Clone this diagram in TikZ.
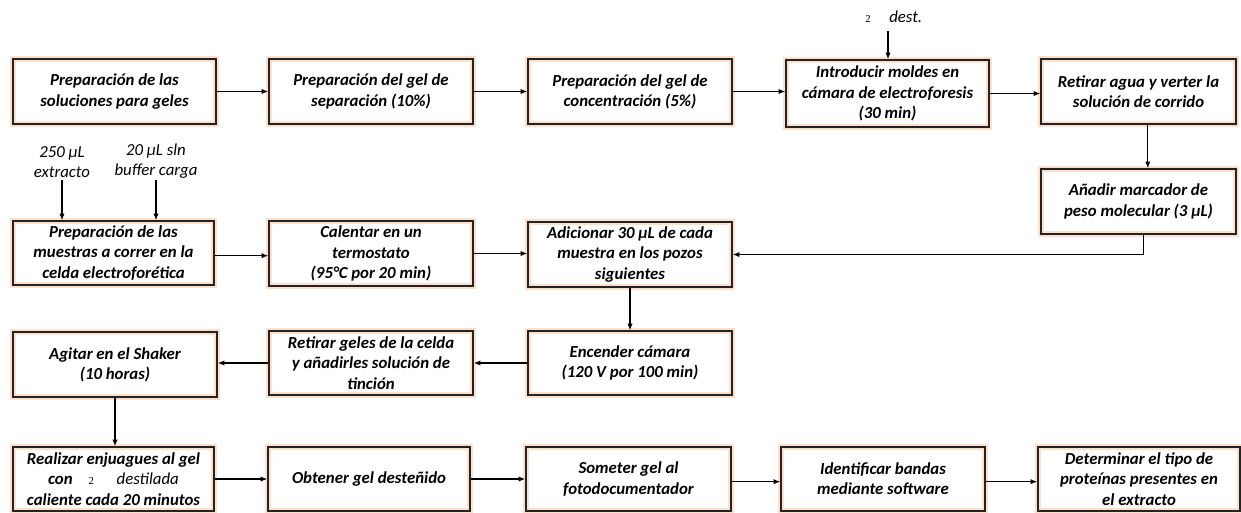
\documentclass[tikz,border=0pt]{standalone}
\usepackage{fontspec}
\setmainfont{Carlito}
\newfontfamily\subfont{Liberation Serif}
\usetikzlibrary{arrows.meta,calc}
\definecolor{glow}{RGB}{252,224,204}
\definecolor{edge}{RGB}{35,35,35}
\newcommand\boxnode[6]{\node[box, minimum width={(#4-#2)*0.75pt}, minimum height={(#5-#3)*0.75pt}] (#1) at ({(#2+#4)/2},{(#3+#5)/2}) {#6};}
\begin{document}
\begin{tikzpicture}[x=0.75pt,y=-0.75pt,
  box/.style={draw=edge, line width=1.1pt, inner sep=0pt, align=center,
    font=\fontsize{12.6}{15.2}\selectfont\bfseries\itshape,
    preaction={draw=glow, line width=4.5pt}},
  lab/.style={align=center, inner sep=0pt, font=\fontsize{12.6}{15.2}\selectfont\itshape},
  arr/.style={-{Latex[length=5pt,width=4pt]}, line width=0.9pt, draw=black}]
\useasboundingbox (0,0) rectangle (1241,512);
% row 1
\boxnode{b1}{13}{59}{216}{124}{Preparación de las\\soluciones para geles}
\boxnode{b2}{269}{59}{473}{124}{Preparación del gel de\\separación (10\%)}
\boxnode{b3}{528}{59}{732}{124}{Preparación del gel de\\concentración (5\%)}
\boxnode{b4}{786}{60}{989}{127}{Introducir moldes en\\cámara de electroforesis\\(30 min)}
\boxnode{b5}{1041}{59}{1236}{124}{Retirar agua y verter la\\solución de corrido}
% row 2
\boxnode{b6}{1041}{169}{1236}{234}{Añadir marcador de\\peso molecular (3 µL)}
\boxnode{b7}{13}{221}{214}{285}{Preparación de las\\muestras a correr en la\\celda electroforética}
\boxnode{b8}{269}{221}{473}{286}{Calentar en un\\termostato\\(95°C por 20 min)}
\boxnode{b9}{528}{222}{732}{287}{Adicionar 30 µL de cada\\muestra en los pozos\\siguientes}
% row 3
\boxnode{b10}{528}{331}{732}{395}{Encender cámara\\(120 V por 100 min)}
\boxnode{b11}{269}{331}{473}{395}{Retirar geles de la celda\\y añadirles solución de\\tinción}
\boxnode{b12}{13}{332}{217}{397}{Agitar en el Shaker\\(10 horas)}
% row 4
\boxnode{b13}{13}{447}{214}{511}{Realizar enjuagues al gel\\con\hspace{12pt}{\subfont\mdseries\upshape\fontsize{8}{9}\selectfont 2}\hspace{17pt}{\mdseries destilada}\\caliente cada 20 minutos}
\boxnode{b14}{268}{447}{470}{511}{Obtener gel desteñido}
\boxnode{b15}{526}{447}{731}{511}{Someter gel al\\fotodocumentador}
\boxnode{b16}{781}{447}{985}{511}{Identificar bandas\\mediante software}
\boxnode{b17}{1038}{447}{1240}{511}{Determinar el tipo de\\proteínas presentes en\\el extracto}
% labels
\node[lab] (l1) at (62,162) {250 µL\\extracto};
\node[lab] (l2) at (156,161) {20 µL sln\\buffer carga};
\node[lab, anchor=west] (l3) at (865,17) {{\subfont\upshape\fontsize{8}{9}\selectfont 2}\hspace{14pt}dest.};
\coordinate (c3) at (888,31);
\coordinate (c1) at (62,180);
\coordinate (c2) at (156,180);
% connectors
\draw[arr] (b1.east) -- (b1.east -| b2.west);
\draw[arr] (b2.east) -- (b2.east -| b3.west);
\draw[arr] (b3.east) -- (b3.east -| b4.west);
\draw[arr] (b4.east) -- (b4.east -| b5.west);
\draw[arr] (c3) -- (c3 |- b4.north);
\draw[arr] ([xshift=7pt]b5.south) -- ([xshift=7pt]b5.south |- b6.north);
\draw[arr] ([xshift=4pt]b6.south) |- (b9.east);
\draw[arr] (c1) -- (c1 |- b7.north);
\draw[arr] (c2) -- (c2 |- b7.north);
\draw[arr] ([yshift=-2pt]b7.east) -- ([yshift=-2pt]b7.east -| b8.west);
\draw[arr] (b8.east) -- (b8.east -| b9.west);
\draw[arr] (b9.south) -- (b9.south |- b10.north);
\draw[arr] (b10.west) -- (b10.west -| b11.east);
\draw[arr] (b11.west) -- (b11.west -| b12.east);
\draw[arr] (b12.south) -- (b12.south |- b13.north);
\draw[arr] (b13.east) -- (b13.east -| b14.west);
\draw[arr] (b14.east) -- (b14.east -| b15.west);
\draw[arr] ([yshift=-2pt]b15.east) -- ([yshift=-2pt]b15.east -| b16.west);
\draw[arr] ([yshift=-2pt]b16.east) -- ([yshift=-2pt]b16.east -| b17.west);
\end{tikzpicture}
\end{document}
